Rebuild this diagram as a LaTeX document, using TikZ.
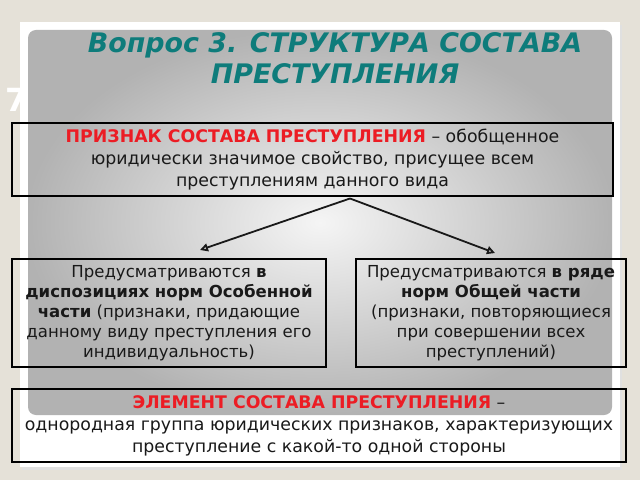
\documentclass[tikz,border=0pt]{standalone}
\usepackage{fontspec}
\setmainfont{DejaVu Sans}
\usetikzlibrary{arrows.meta}
\definecolor{bgbeige}{RGB}{229,225,216}
\definecolor{titleteal}{RGB}{14,124,123}
\definecolor{keyred}{RGB}{236,28,36}
\tikzset{
	infobox/.style={draw=black, line width=1.3bp, inner sep=0pt, align=center,
		text=black!90, font=\fontsize{17.4}{22}\selectfont},
	sidebox/.style={infobox, font=\fontsize{16.6}{20}\selectfont},
	branch/.style={line width=1.8bp, black!90, -{Triangle[open, length=8bp, width=8bp]}},
}
\newcommand{\keyword}[1]{\textcolor{keyred}{\textbf{#1}}}
\begin{document}
\begin{tikzpicture}[x=1bp, y=-1bp]
			%%%%% START %%%%%
			
			\fill[bgbeige] (0, 0) rectangle (640, 480);
			\useasboundingbox (0, 0) rectangle (640, 480);
			
			\fill[black!12] (22, 25) rectangle (622, 470);
			\fill[white] (20, 22) rectangle (620, 467);
			\shade[inner color=gray!8, outer color=gray!60, rounded corners=8bp] (28, 30) rectangle (612, 415);
			
			\node[text=white, font=\bfseries\fontsize{32}{32}\selectfont] (slideno) at (17, 100) {7};
			
			\node[text=titleteal, align=center, font=\bfseries\itshape\fontsize{27}{31}\selectfont] (title) at (335, 58)
				{Вопрос 3. СТРУКТУРА СОСТАВА\\ПРЕСТУПЛЕНИЯ};
			
			\node[infobox, minimum width=601bp, minimum height=73bp] (priznak) at (312.5, 159.5)
				{\keyword{ПРИЗНАК СОСТАВА ПРЕСТУПЛЕНИЯ} – обобщенное\\юридически значимое свойство, присущее всем\\преступлениям данного вида};
			
			\node[sidebox, minimum width=314bp, minimum height=108bp] (osob) at (169, 313)
				{Предусматриваются \textbf{в}\\\textbf{диспозициях норм Особенной}\\\textbf{части} (признаки, придающие\\данному виду преступления его\\индивидуальность)};
			
			\node[sidebox, minimum width=270bp, minimum height=108bp] (obsh) at (491, 313)
				{Предусматриваются \textbf{в ряде}\\\textbf{норм Общей части}\\(признаки, повторяющиеся\\при совершении всех\\преступлений)};
			
			\node[infobox, minimum width=614bp, minimum height=73bp] (element) at (319, 425.5)
				{\keyword{ЭЛЕМЕНТ СОСТАВА ПРЕСТУПЛЕНИЯ} –\\однородная группа юридических признаков, характеризующих\\преступление с какой-то одной стороны};
			
			\coordinate (fork) at (350, 198.5);
			\coordinate (leftend) at (200, 250);
			\coordinate (rightend) at (495, 253);
			\draw[branch] (fork) -- (leftend);
			\draw[branch] (fork) -- (rightend);
			
			%%%%% END %%%%%
\end{tikzpicture}
\end{document}
